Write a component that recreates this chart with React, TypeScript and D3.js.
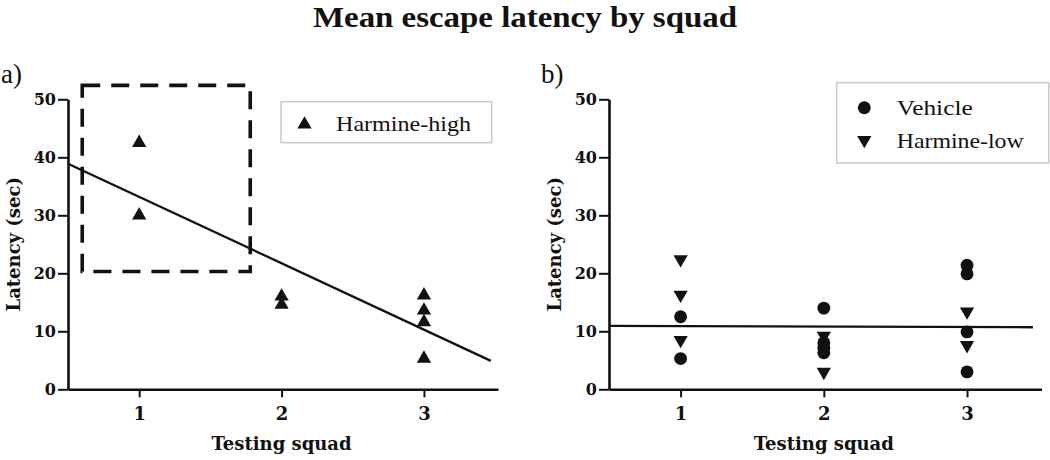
import React, { useEffect, useRef } from "react";
import * as d3 from "d3";

const WIDTH = 1050;
const HEIGHT = 460;
const TOP = 99.3;
const BOTTOM = 389.3;

const squadTicks = [1, 2, 3];
const latencyTicks = [0, 10, 20, 30, 40, 50];
const squadDomain = [0.5, 3.52];
const latencyDomain = [0, 50];

// panel a: Harmine-high
const highSquad = [1, 1, 2, 2, 3, 3, 3, 3];
const highLatency = [42.5, 30.0, 16.0, 14.6, 16.2, 13.6, 11.6, 5.3];
const highFitSquad = [0.5, 3.47];
const highFitLatency = [38.9, 4.9];
// dashed highlight box (squad range, latency range)
const boxSquad = [0.6, 1.78];
const boxLatency = [20.3, 52.4];

// panel b: Vehicle and Harmine-low
const vehicleSquad = [1, 1, 2, 2, 2, 2, 3, 3, 3, 3];
const vehicleLatency = [12.5, 5.3, 14.0, 8.0, 7.1, 6.3, 21.4, 19.9, 9.9, 3.0];
const lowSquad = [1, 1, 1, 2, 2, 3, 3];
const lowLatency = [22.4, 16.3, 8.5, 9.2, 3.0, 13.4, 7.6];
const lowFitSquad = [0.5, 3.46];
const lowFitLatency = [10.95, 10.7];

const tickFont = "'DejaVu Serif', serif";
const textFont = "'Liberation Serif', 'Times New Roman', serif";

const triangle = d3.symbol().type(d3.symbolTriangle).size(88)();
const circle = d3.symbol().type(d3.symbolCircle).size(130)();

function Axes({ x, y }) {
  const xRef = useRef(null);
  const yRef = useRef(null);

  useEffect(() => {
    const xAxis = d3
      .axisBottom(x)
      .tickValues(squadTicks)
      .tickFormat(d3.format("d"))
      .tickSize(8)
      .tickSizeOuter(0)
      .tickPadding(10);
    const yAxis = d3
      .axisLeft(y)
      .tickValues(latencyTicks)
      .tickSize(10)
      .tickSizeOuter(0)
      .tickPadding(2);

    const gx = d3.select(xRef.current).call(xAxis);
    const gy = d3.select(yRef.current).call(yAxis);

    [gx, gy].forEach((g) => {
      g.select(".domain").attr("stroke", "#111").attr("stroke-width", 2.6);
      g.selectAll(".tick line").attr("stroke", "#111").attr("stroke-width", 2);
      g.selectAll(".tick text")
        .attr("fill", "#111")
        .attr("font-family", tickFont)
        .attr("font-weight", "bold");
    });
    gx.selectAll(".tick text").attr("font-size", 18);
    gy.selectAll(".tick text").attr("font-size", 16);
  }, [x, y]);

  return (
    <g>
      <g ref={yRef} transform={`translate(${x.range()[0]},0)`} />
      <g ref={xRef} transform={`translate(0,${BOTTOM})`} />
    </g>
  );
}

function AxisTitles({ x, y, labelX }) {
  const midY = (y(latencyDomain[0]) + y(latencyDomain[1])) / 2;
  return (
    <g fill="#111" fontFamily={tickFont} fontWeight="bold" fontSize={18}>
      <text x={x(2)} y={450} textAnchor="middle">
        Testing squad
      </text>
      <text
        transform={`translate(${labelX},${midY}) rotate(-90)`}
        textAnchor="middle"
      >
        Latency (sec)
      </text>
    </g>
  );
}

function PanelA() {
  const x = d3.scaleLinear().domain(squadDomain).range([68, 498]);
  const y = d3.scaleLinear().domain(latencyDomain).range([BOTTOM, TOP]);
  const fit = d3
    .line()
    .x((d) => x(d[0]))
    .y((d) => y(d[1]))(highFitSquad.map((s, i) => [s, highFitLatency[i]]));

  return (
    <g>
      <text x={1} y={83} fontFamily={textFont} fontSize={27} fill="#111">
        a)
      </text>
      <Axes x={x} y={y} />
      <AxisTitles x={x} y={y} labelX={20} />
      <rect
        x={x(boxSquad[0])}
        y={y(boxLatency[1])}
        width={x(boxSquad[1]) - x(boxSquad[0])}
        height={y(boxLatency[0]) - y(boxLatency[1])}
        fill="none"
        stroke="#111"
        strokeWidth={3.6}
        strokeDasharray="18 11"
      />
      <path d={fit} fill="none" stroke="#111" strokeWidth={2.3} />
      {highSquad.map((s, i) => (
        <path
          key={i}
          d={triangle}
          transform={`translate(${x(s)},${y(highLatency[i])})`}
          fill="#111"
        />
      ))}
      <rect
        x={281}
        y={101.7}
        width={210.7}
        height={41}
        fill="#fff"
        stroke="#c9c9c9"
        strokeWidth={1.5}
      />
      <path d={triangle} transform="translate(304.5,124.5)" fill="#111" />
      <text
        x={336}
        y={131}
        fontFamily={textFont}
        fontSize={22}
        fill="#111"
        textLength={135}
        lengthAdjust="spacingAndGlyphs"
      >
        Harmine-high
      </text>
    </g>
  );
}

function PanelB() {
  const x = d3.scaleLinear().domain(squadDomain).range([609, 1041.5]);
  const y = d3.scaleLinear().domain(latencyDomain).range([BOTTOM, TOP]);
  const fit = d3
    .line()
    .x((d) => x(d[0]))
    .y((d) => y(d[1]))(lowFitSquad.map((s, i) => [s, lowFitLatency[i]]));

  return (
    <g>
      <text x={541} y={83} fontFamily={textFont} fontSize={27} fill="#111">
        b)
      </text>
      <Axes x={x} y={y} />
      <AxisTitles x={x} y={y} labelX={561} />
      <path d={fit} fill="none" stroke="#111" strokeWidth={2.3} />
      {vehicleSquad.map((s, i) => (
        <path
          key={"v" + i}
          d={circle}
          transform={`translate(${x(s)},${y(vehicleLatency[i])})`}
          fill="#111"
        />
      ))}
      {lowSquad.map((s, i) => (
        <path
          key={"l" + i}
          d={triangle}
          transform={`translate(${x(s)},${y(lowLatency[i])}) rotate(180)`}
          fill="#111"
        />
      ))}
      <rect
        x={836.7}
        y={82.7}
        width={212}
        height={80.3}
        fill="#fff"
        stroke="#c9c9c9"
        strokeWidth={1.5}
      />
      <path d={circle} transform="translate(864.3,107.7)" fill="#111" />
      <path d={triangle} transform="translate(864.3,140) rotate(180)" fill="#111" />
      <g fontFamily={textFont} fontSize={22} fill="#111">
        <text x={896.7} y={114.5} textLength={76} lengthAdjust="spacingAndGlyphs">
          Vehicle
        </text>
        <text x={896.7} y={147.5} textLength={127} lengthAdjust="spacingAndGlyphs">
          Harmine-low
        </text>
      </g>
    </g>
  );
}

export default function App() {
  return (
    <svg
      width={WIDTH}
      height={HEIGHT}
      style={{ position: "absolute", left: 0, top: 0, background: "#fff" }}
    >
      <text
        x={525}
        y={27}
        textAnchor="middle"
        fontFamily={textFont}
        fontWeight="bold"
        fontSize={29}
        fill="#111"
        textLength={424}
        lengthAdjust="spacingAndGlyphs"
      >
        Mean escape latency by squad
      </text>
      <PanelA />
      <PanelB />
    </svg>
  );
}
